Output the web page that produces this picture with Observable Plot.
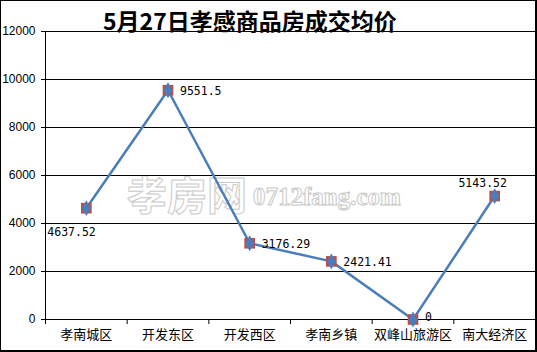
<!DOCTYPE html>
<html>
<head>
<meta charset="utf-8">
<script src="https://cdn.jsdelivr.net/npm/d3@7"></script>
<script src="https://cdn.jsdelivr.net/npm/@observablehq/plot@0.6"></script>
<style>
  html, body { margin: 0; padding: 0; background: #fff; }
  #wrap { position: relative; width: 537px; height: 352px; overflow: hidden; background: #fff; }
  #frame { position: absolute; left: 0; top: 0; width: 537px; height: 352px; box-sizing: border-box; border: 1px solid #000; border-right-width: 2px; border-bottom-width: 2px; pointer-events: none; z-index: 5; }
  #title { position: absolute; left: 103px; top: 3px; font: bold 23px "Noto Sans CJK SC", sans-serif; color: #000; letter-spacing: 0px; white-space: nowrap; z-index: 4; }
  .wm { position: absolute; color: #fff; -webkit-text-stroke: 1px #c9c9c9; white-space: nowrap; z-index: 0; }
  #wm1 { left: 127px; top: 164px; font: bold 40px "Noto Sans CJK SC", sans-serif; }
  #wm2 { left: 253px; top: 183px; font: bold 25px "Liberation Serif", serif; }
  #chart { position: absolute; left: 0; top: 0; z-index: 2; }
</style>
</head>
<body>
<div id="wrap">
  <div class="wm" id="wm1">孝房网</div>
  <div class="wm" id="wm2">0712fang.com</div>
  <div id="chart"></div>
  <div id="title">5月27日孝感商品房成交均价</div>
  <div id="frame"></div>
</div>
<script>
const categories = ["孝南城区", "开发东区", "开发西区", "孝南乡镇", "双峰山旅游区", "南大经济区"];
const values = [4637.52, 9551.5, 3176.29, 2421.41, 0, 5143.52];
const labels = ["4637.52", "9551.5", "3176.29", "2421.41", "0", "5143.52"];
const yTicks = [0, 2000, 4000, 6000, 8000, 10000, 12000];

const data = categories.map((c, i) => ({i, c, v: values[i], label: labels[i]}));
const below = [0], right = [1, 2, 3], rightLow = [4], above = [5];
const numFont = '"DejaVu Sans Mono", monospace';
const lbl = {x: "i", y: "v", text: "label", fontSize: 11.5, fontFamily: numFont, fill: "#000"};

const chart = Plot.plot({
  width: 537,
  height: 352,
  marginTop: 31,
  marginBottom: 33,
  marginLeft: 45,
  marginRight: 2,
  style: {background: "transparent", overflow: "visible"},
  x: {type: "linear", domain: [-0.5, categories.length - 0.5]},
  y: {domain: [0, 12000]},
  marks: [
    Plot.ruleY(yTicks, {stroke: "#000", strokeWidth: 1}),
    Plot.ruleX([-0.5], {y1: 0, y2: 12000, stroke: "#000"}),
    Plot.axisY({ticks: yTicks, tickSize: 4, tickPadding: 6, label: null, fontSize: 12, fontFamily: '"Liberation Sans", sans-serif', stroke: "#000", fill: "#000", tickFormat: d => String(d)}),
    Plot.axisX({ticks: d3.range(-0.5, categories.length, 1), tickSize: 5, tickFormat: () => "", label: null, stroke: "#000"}),
    Plot.axisX({ticks: d3.range(categories.length), tickSize: 0, tickPadding: 10, tickFormat: i => categories[i], label: null, fontSize: 13, fontFamily: '"Noto Sans CJK SC", sans-serif', fill: "#000"}),
    Plot.line(data, {x: "i", y: "v", stroke: "#4a7ebb", strokeWidth: 2.5}),
    Plot.dot(data, {x: "i", y: "v", symbol: "square", r: 6, fill: "#be4b48", stroke: "none"}),
    Plot.dot(data, {x: "i", y: "v", symbol: "diamond", r: 4.8, fill: "#4a7ebb", stroke: "none"}),
    Plot.text(data, {...lbl, filter: d => below.includes(d.i), textAnchor: "start", dx: -39, dy: 24}),
    Plot.text(data, {...lbl, filter: d => right.includes(d.i), textAnchor: "start", dx: 12, dy: 1}),
    Plot.text(data, {...lbl, filter: d => rightLow.includes(d.i), textAnchor: "start", dx: 12, dy: -2}),
    Plot.text(data, {...lbl, filter: d => above.includes(d.i), textAnchor: "middle", dx: -12, dy: -13})
  ]
});
document.getElementById("chart").appendChild(chart);
</script>
</body>
</html>
